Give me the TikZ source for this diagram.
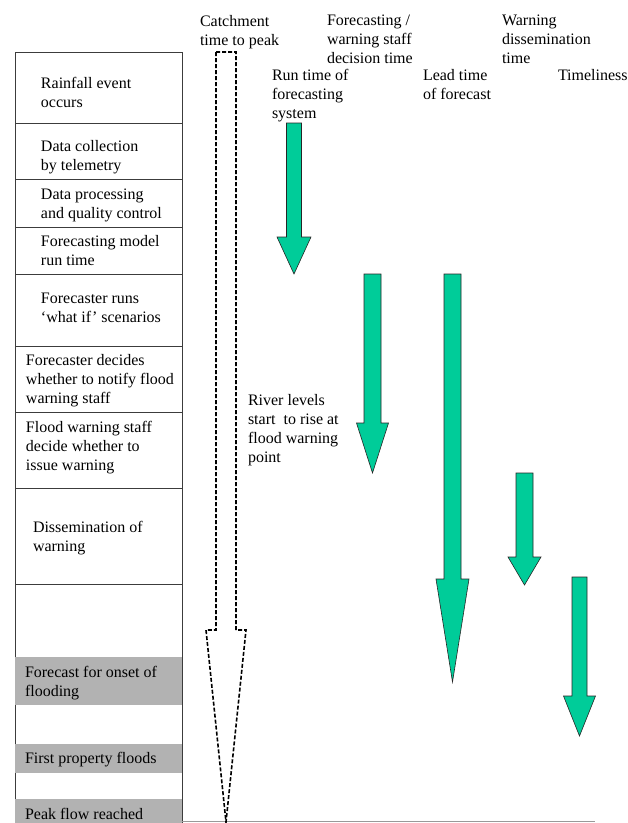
\documentclass[tikz,border=0pt]{standalone}
\usepackage{fontspec}
\setmainfont{Liberation Serif}
\definecolor{arrowgreen}{RGB}{0,204,153}
\definecolor{boxgray}{RGB}{178,178,178}
\definecolor{lineclr}{RGB}{60,60,60}
\newcommand{\mylines}[1]{\begin{tabular}[t]{@{}l@{}}#1\end{tabular}}
\newcommand{\greenarrow}[6]{%
  \draw[garrow] (#1-#5,#2) -- (#1+#5,#2) -- (#1+#5,#3) -- (#1+#6,#3) -- (#1,#4)
    -- (#1-#6,#3) -- (#1-#5,#3) -- cycle;}
\begin{document}
\begin{tikzpicture}[x=1pt,y=-1pt,
  every node/.style={inner sep=0pt, outer sep=0pt, anchor=base west,
    font=\fontsize{16}{19}\selectfont},
  rowline/.style={draw=lineclr, line width=0.8pt},
  grayrow/.style={fill=boxgray, draw=none},
  garrow/.style={fill=arrowgreen, draw=black!85, line width=0.6pt, line join=miter},
  dasharrow/.style={draw=black, line width=1.6pt, dash pattern=on 4pt off 2pt, line join=miter},
  baseline/.style={draw=black!40, line width=0.8pt}]
\useasboundingbox (0,0) rectangle (628,823);

% left column frame
\draw[rowline] (15,52) -- (182,52);
\foreach \yy in {123,179,227,274,346,412,488,584}
  \draw[rowline] (15,\yy) -- (182,\yy);
\draw[rowline] (15,52) -- (15,823);
\draw[rowline] (182,52) -- (182,823);

% gray rows
\fill[grayrow] (14.5,657) rectangle (181.5,705);
\fill[grayrow] (14.5,744) rectangle (181.5,773);
\fill[grayrow] (14.5,799) rectangle (181.5,823);

% bottom line
\draw[baseline] (182,821.5) -- (595,821.5);

% row texts
\node (rain)   at (41,88)  {\mylines{Rainfall event\\occurs}};
\node (datac)  at (41,151) {\mylines{Data collection\\by telemetry}};
\node (datap)  at (41,199) {\mylines{Data processing\\and quality control}};
\node (model)  at (41,246) {\mylines{Forecasting model\\run time}};
\node (whatif) at (41,303) {\mylines{Forecaster runs\\‘what if’ scenarios}};
\node (decide) at (26,365) {\mylines{Forecaster decides\\whether to notify flood\\warning staff}};
\node (staff)  at (26,432) {\mylines{Flood warning staff\\decide whether to\\issue warning}};
\node (dissem) at (33,532) {\mylines{Dissemination of\\warning}};
\node (onset)  at (25,677) {\mylines{Forecast for onset of\\flooding}};
\node (first)  at (25,763) {First property floods};
\node (peak)   at (25,819) {Peak flow reached};

% column labels
\node (catch)  at (200,26)  {\mylines{Catchment\\time to peak}};
\node (runt)   at (272,80)  {\mylines{Run time of\\forecasting\\system}};
\node (fwdec)  at (327,25)  {\mylines{Forecasting /\\warning staff\\decision time}};
\node (lead)   at (423,80)  {\mylines{Lead time\\of forecast}};
\node (wdis)   at (502,25)  {\mylines{Warning\\dissemination\\time}};
\node (timel)  at (558,80)  {Timeliness};
\node (river)  at (248,405) {\mylines{River levels\\start\ \ to rise at\\flood warning\\point}};

% dashed catchment arrow
\draw[dasharrow] (216,52) -- (236,52) -- (236,630) -- (246,630) -- (226,822)
  -- (206,630) -- (216,630) -- cycle;

% green arrows: cx, top, headstart, tip, halfshaft, halfhead
\greenarrow{294}{123}{237}{274}{7.5}{17}
\greenarrow{372.5}{274}{423}{473}{8.5}{16}
\greenarrow{452.5}{274}{579}{682}{8.5}{16.5}
\greenarrow{524.5}{473}{557}{585}{8.5}{16.5}
\greenarrow{579.5}{577}{696}{736}{7.5}{16}
\end{tikzpicture}
\end{document}
